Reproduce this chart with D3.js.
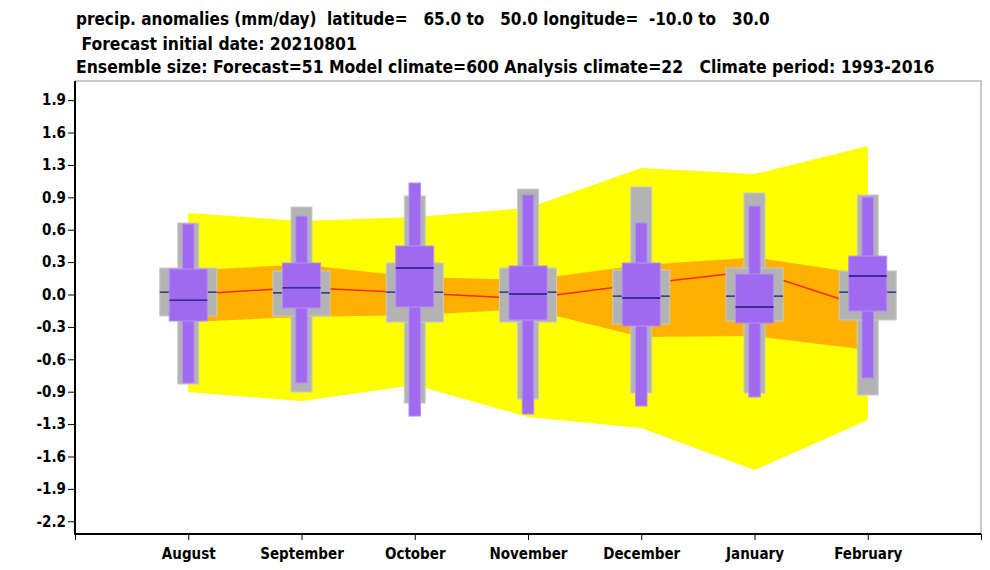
<!DOCTYPE html>
<html>
<head>
<meta charset="utf-8">
<script src="https://cdn.jsdelivr.net/npm/d3@7/dist/d3.min.js"></script>
<style>
  html, body { margin: 0; padding: 0; background: #ffffff; }
  svg { display: block; }
  text { font-family: "DejaVu Sans Condensed", "DejaVu Sans", sans-serif; font-weight: bold; white-space: pre; }
</style>
</head>
<body>
<svg id="chart" width="990" height="570"></svg>
<script>
// ---------------- data ----------------
const months = ["August", "September", "October", "November", "December", "January", "February"];

const titleLines = [
  "precip. anomalies (mm/day)  latitude=   65.0 to   50.0 longitude=  -10.0 to   30.0",
  " Forecast initial date: 20210801",
  "Ensemble size: Forecast=51 Model climate=600 Analysis climate=22   Climate period: 1993-2016"
];

// y tick labels (ticks are evenly spaced, step 0.95/3)
const yTickLabels = ["-2.2", "-1.9", "-1.6", "-1.3", "-0.9", "-0.6", "-0.3", "0.0", "0.3", "0.6", "0.9", "1.3", "1.6", "1.9"];
const yTickIndex  = [-7, -6, -5, -4, -3, -2, -1, 0, 1, 2, 3, 4, 5, 6];
const yTickStep = 0.95 / 3;

// outer (yellow) band: analysis climate extremes
const yellowTop    = [0.797, 0.718, 0.757, 0.846, 1.237, 1.178, 1.452];
const yellowBottom = [-0.953, -1.041, -0.885, -1.197, -1.305, -1.716, -1.227];
// inner (orange) band
const orangeTop    = [0.235, 0.293, 0.171, 0.142, 0.288, 0.362, 0.196];
const orangeBottom = [-0.269, -0.220, -0.200, -0.142, -0.415, -0.406, -0.543];
// red line
const redLine      = [0.001, 0.068, 0.015, -0.040, 0.103, 0.230, -0.132];

// model climate (grey) box: whisker max, upper quartile, median, lower quartile, whisker min
const climMax = [0.699, 0.855, 0.963, 1.031, 1.051, 0.992, 0.973];
const climQ3  = [0.259, 0.230, 0.308, 0.259, 0.239, 0.259, 0.230];
const climMed = [0.024, 0.015, 0.024, 0.024, -0.015, -0.015, 0.024];
const climQ1  = [-0.210, -0.210, -0.269, -0.269, -0.288, -0.259, -0.249];
const climMin = [-0.875, -0.953, -1.061, -1.022, -0.963, -0.963, -0.982];

// forecast (purple) box
const fcMax = [0.689, 0.767, 1.090, 0.973, 0.699, 0.865, 0.953];
const fcQ3  = [0.249, 0.308, 0.474, 0.279, 0.308, 0.200, 0.376];
const fcMed = [-0.054, 0.064, 0.259, 0.005, -0.034, -0.122, 0.181];
const fcQ1  = [-0.259, -0.132, -0.122, -0.249, -0.308, -0.279, -0.161];
const fcMin = [-0.865, -0.865, -1.188, -1.168, -1.090, -1.002, -0.816];

// ---------------- layout ----------------
const svg = d3.select("#chart");
const plot = { left: 75, right: 981, top: 81, bottom: 534 };

const x = d3.scaleLinear().domain([-1, 7]).range([plot.left, plot.right]);
const y = d3.scaleLinear().domain([-2.341, 2.087]).range([plot.bottom, plot.top]);
const unit = x(1) - x(0);

const colors = {
  yellow: "#ffff00", orange: "#ffb000", red: "#ff2800",
  grey: "#b3b3b3", greyEdge: "#c9c9c9",
  purple: "#a06af0", purpleEdge: "#b591f0",
  median: "#1a1a78"
};

// titles
const titleX = [76, 76, 76];
const titleY = [25, 50, 73];
const titleW = [694, 276, 859];
titleLines.forEach((t, i) => {
  const el = svg.append("text").attr("x", titleX[i]).attr("y", titleY[i])
    .attr("font-size", 16).attr("fill", "#000").text(t);
  const w = el.node().getComputedTextLength();
  const visW = titleW[i] + (i === 1 ? 5 : 0);
  el.attr("font-size", 16 * visW / w);
});

// frame (light grey top/right)
svg.append("path")
  .attr("d", `M${plot.left},${plot.top}H${plot.right}V${plot.bottom}`)
  .attr("fill", "none").attr("stroke", "#b8b8b8").attr("stroke-width", 1.5);

const idx = d3.range(months.length);

// yellow band
const area = (top, bot) => d3.area().x(i => x(i)).y0(i => y(bot[i])).y1(i => y(top[i]));
svg.append("path").datum(idx).attr("d", area(yellowTop, yellowBottom)).attr("fill", colors.yellow);
svg.append("path").datum(idx).attr("d", area(orangeTop, orangeBottom)).attr("fill", colors.orange);
svg.append("path").datum(idx)
  .attr("d", d3.line().x(i => x(i)).y(i => y(redLine[i])))
  .attr("fill", "none").attr("stroke", colors.red).attr("stroke-width", 1.5);

// boxes
function rect(g, cx, halfW, top, bot, fill, edge) {
  g.append("rect")
    .attr("x", cx - halfW).attr("width", 2 * halfW)
    .attr("y", y(top)).attr("height", y(bot) - y(top))
    .attr("fill", fill).attr("stroke", edge).attr("stroke-width", 1);
}
function hline(g, cx, halfW, v) {
  g.append("line").attr("x1", cx - halfW).attr("x2", cx + halfW)
    .attr("y1", y(v)).attr("y2", y(v))
    .attr("stroke", colors.median).attr("stroke-width", 1.3);
}
const gW = 0.2515 * unit, gN = 0.0925 * unit, pW = 0.168 * unit, pN = 0.051 * unit;
idx.forEach(i => {
  const g = svg.append("g");
  const cx = x(i);
  rect(g, cx, gN, climMax[i], climMin[i], colors.grey, colors.greyEdge);
  rect(g, cx, gW, climQ3[i], climQ1[i], colors.grey, colors.greyEdge);
  hline(g, cx, gW, climMed[i]);
  rect(g, cx, pN, fcMax[i], fcMin[i], colors.purple, colors.purpleEdge);
  rect(g, cx, pW, fcQ3[i], fcQ1[i], colors.purple, colors.purpleEdge);
  hline(g, cx, pW, fcMed[i]);
});

// axes
const yAxis = d3.axisLeft(y)
  .tickValues(yTickIndex.map(k => k * yTickStep))
  .tickFormat((d, i) => yTickLabels[i])
  .tickSize(7).tickPadding(2);
const ya = svg.append("g").attr("transform", `translate(${plot.left},0)`).call(yAxis);
ya.select(".domain").attr("stroke", "#000").attr("stroke-width", 2)
  .attr("d", `M0,${plot.top}V${plot.bottom + 1}`);
ya.selectAll(".tick line").attr("stroke", "#000").attr("stroke-width", 1);
ya.selectAll(".tick text").attr("font-size", 15).attr("fill", "#000")
  .style("font-family", '"DejaVu Sans Condensed", "DejaVu Sans", sans-serif').style("font-weight", "bold");

const xAxis = d3.axisBottom(x)
  .tickValues(d3.range(-1, 8))
  .tickFormat(d => (d >= 0 && d < months.length) ? months[d] : "")
  .tickSize(6).tickPadding(8);
const xa = svg.append("g").attr("transform", `translate(0,${plot.bottom})`).call(xAxis);
xa.select(".domain").attr("stroke", "#000").attr("stroke-width", 2)
  .attr("d", `M${plot.left},0H${plot.right}`);
xa.selectAll(".tick line").attr("stroke", "#000").attr("stroke-width", 1);
xa.selectAll(".tick text").attr("font-size", 15).attr("fill", "#000")
  .style("font-family", '"DejaVu Sans Condensed", "DejaVu Sans", sans-serif').style("font-weight", "bold");
</script>
</body>
</html>
